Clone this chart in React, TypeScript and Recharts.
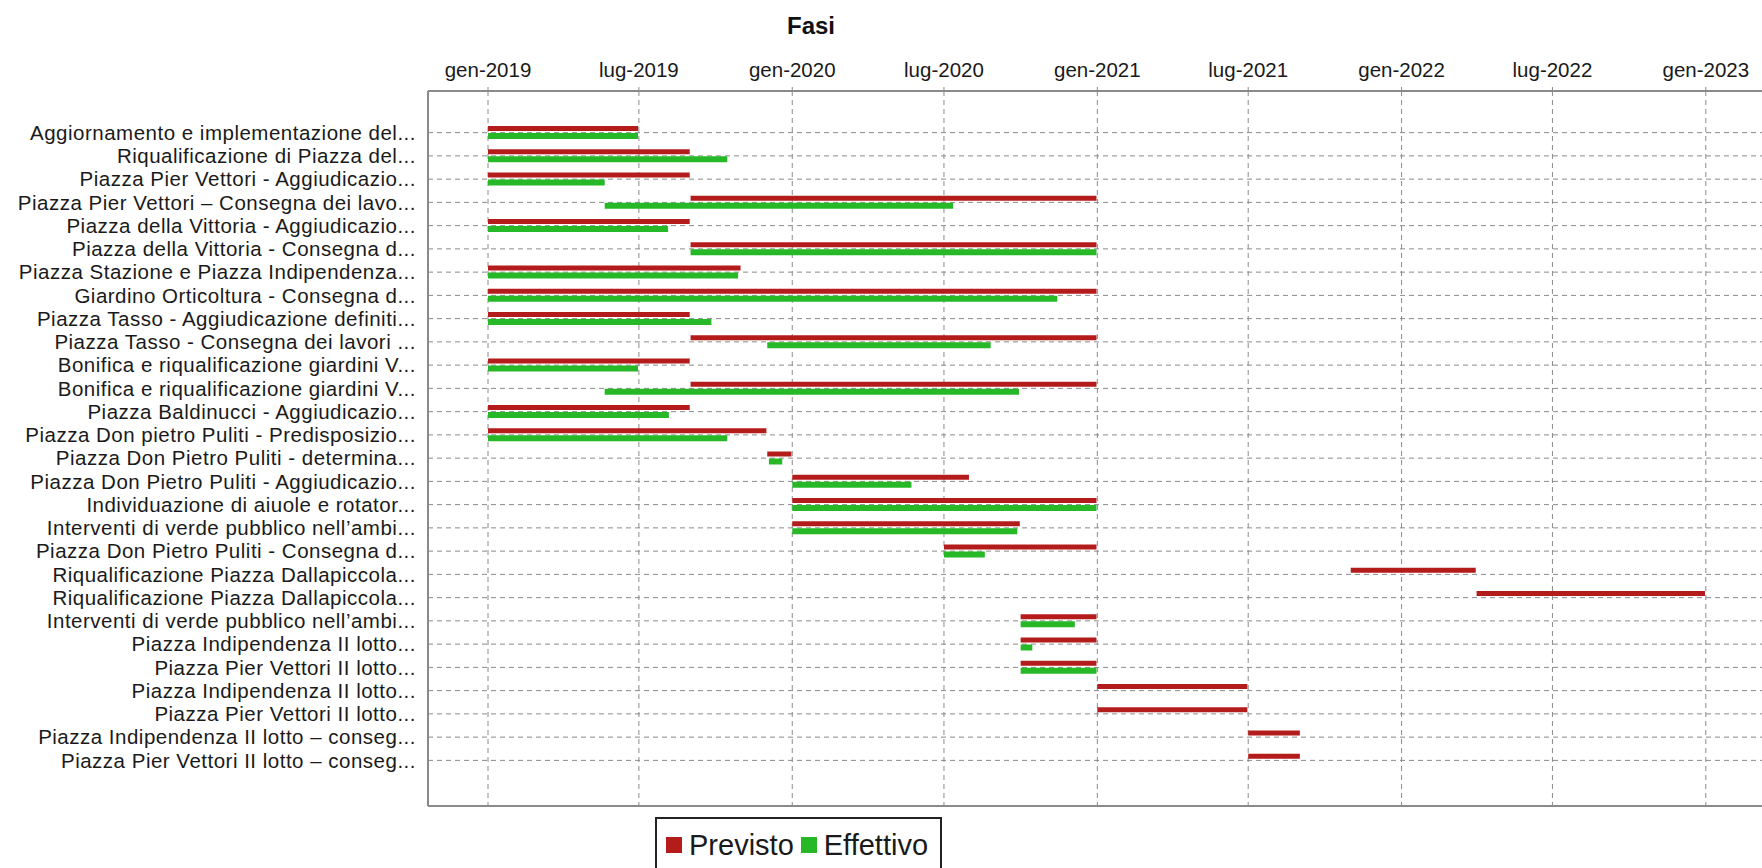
import React from 'react';
import { BarChart, Bar, XAxis, YAxis, CartesianGrid, Legend } from 'recharts';

// fasi (etichette troncate come nel grafico originale)
const fasi = [
  'Aggiornamento e implementazione del...',
  'Riqualificazione di Piazza del...',
  'Piazza Pier Vettori - Aggiudicazio...',
  'Piazza Pier Vettori – Consegna dei lavo...',
  'Piazza della Vittoria - Aggiudicazio...',
  'Piazza della Vittoria - Consegna d...',
  'Piazza Stazione e Piazza Indipendenza...',
  'Giardino Orticoltura - Consegna d...',
  'Piazza Tasso - Aggiudicazione definiti...',
  'Piazza Tasso - Consegna dei lavori ...',
  'Bonifica e riqualificazione giardini V...',
  'Bonifica e riqualificazione giardini V...',
  'Piazza Baldinucci - Aggiudicazio...',
  'Piazza Don pietro Puliti - Predisposizio...',
  'Piazza Don Pietro Puliti - determina...',
  'Piazza Don Pietro Puliti - Aggiudicazio...',
  'Individuazione di aiuole e rotator...',
  'Interventi di verde pubblico nell’ambi...',
  'Piazza Don Pietro Puliti - Consegna d...',
  'Riqualificazione Piazza Dallapiccola...',
  'Riqualificazione Piazza Dallapiccola...',
  'Interventi di verde pubblico nell’ambi...',
  'Piazza Indipendenza II lotto...',
  'Piazza Pier Vettori II lotto...',
  'Piazza Indipendenza II lotto...',
  'Piazza Pier Vettori II lotto...',
  'Piazza Indipendenza II lotto – conseg...',
  'Piazza Pier Vettori II lotto – conseg...',
];

const previstoInizio = [
  '2019-01-01', '2019-01-01', '2019-01-01', '2019-09-01', '2019-01-01', '2019-09-01', '2019-01-01',
  '2019-01-01', '2019-01-01', '2019-09-01', '2019-01-01', '2019-09-01', '2019-01-01', '2019-01-01',
  '2019-12-02', '2020-01-01', '2020-01-01', '2020-01-01', '2020-07-01', '2021-11-01', '2022-04-01',
  '2020-10-01', '2020-10-01', '2020-10-01', '2021-01-01', '2021-01-01', '2021-07-01', '2021-07-01',
];
const previstoFine = [
  '2019-06-30', '2019-08-31', '2019-08-31', '2020-12-31', '2019-08-31', '2020-12-31', '2019-10-31',
  '2020-12-31', '2019-08-31', '2020-12-31', '2019-08-31', '2020-12-31', '2019-08-31', '2019-12-01',
  '2019-12-31', '2020-07-31', '2020-12-31', '2020-09-30', '2020-12-31', '2022-03-31', '2022-12-31',
  '2020-12-31', '2020-12-31', '2020-12-31', '2021-06-30', '2021-06-30', '2021-09-01', '2021-09-01',
];
const effettivoInizio = [
  '2019-01-01', '2019-01-01', '2019-01-01', '2019-05-21', '2019-01-01', '2019-09-01', '2019-01-01',
  '2019-01-01', '2019-01-01', '2019-12-02', '2019-01-01', '2019-05-21', '2019-01-01', '2019-01-01',
  '2019-12-04', '2020-01-01', '2020-01-01', '2020-01-01', '2020-07-01', null, null,
  '2020-10-01', '2020-10-01', '2020-10-01', null, null, null, null,
];
const effettivoFine = [
  '2019-06-30', '2019-10-15', '2019-05-21', '2020-07-12', '2019-08-05', '2020-12-31', '2019-10-28',
  '2020-11-14', '2019-09-26', '2020-08-26', '2019-06-30', '2020-09-29', '2019-08-06', '2019-10-15',
  '2019-12-20', '2020-05-23', '2020-12-31', '2020-09-27', '2020-08-19', null, null,
  '2020-12-05', '2020-10-15', '2020-12-31', null, null, null, null,
];

const tickDates = [
  '2019-01-01', '2019-07-01', '2020-01-01', '2020-07-01', '2021-01-01',
  '2021-07-01', '2022-01-01', '2022-07-01', '2023-01-01',
];
const tickLabels = [
  'gen-2019', 'lug-2019', 'gen-2020', 'lug-2020', 'gen-2021',
  'lug-2021', 'gen-2022', 'lug-2022', 'gen-2023',
];
const dominio = ['2018-10-21', '2023-04-24'];
const serie = ['Previsto', 'Effettivo'];

const ts = (s: string) => Date.parse(s + 'T00:00:00Z');

const data = fasi.map((_, i) => ({
  id: i,
  previsto: [ts(previstoInizio[i]), ts(previstoFine[i])],
  effettivo:
    effettivoInizio[i] && effettivoFine[i]
      ? [ts(effettivoInizio[i] as string), ts(effettivoFine[i] as string)]
      : null,
}));

const ticks = tickDates.map(ts);

const ROSSO = '#b41c1c';
const VERDE = '#27b827';
const GRIGIO = '#8a8a8a';

const LegendBox = (props: any) => {
  const items = [...(props.payload || [])].sort(
    (a: any, b: any) => serie.indexOf(a.value) - serie.indexOf(b.value)
  );
  return (
    <div
      style={{
        border: '2px solid #222',
        background: '#fff',
        height: 56,
        display: 'flex',
        alignItems: 'center',
        padding: '0 0 0 9px',
        boxSizing: 'border-box',
        fontFamily: '"Liberation Sans", Arial, sans-serif',
        fontSize: 29,
        color: '#1a1a1a',
      }}
    >
      {items.map((it: any, i: number) => (
        <div key={i} style={{ display: 'flex', alignItems: 'center', marginRight: 7 }}>
          <span style={{ width: 16, height: 16, background: it.color, display: 'inline-block', marginRight: 7 }} />
          <span>{it.value}</span>
        </div>
      ))}
    </div>
  );
};

export default function App() {
  return (
    <div
      style={{
        position: 'absolute',
        left: 0,
        top: 0,
        width: 1762,
        height: 868,
        overflow: 'hidden',
        background: '#fff',
      }}
    >
      <BarChart
        width={1800}
        height={868}
        data={data}
        layout="vertical"
        margin={{ top: 0, right: 0, bottom: 4, left: 0 }}
        barGap={2}
      >
        <text
          x={811}
          y={34}
          textAnchor="middle"
          fontFamily='"Liberation Sans", Arial, sans-serif'
          fontWeight="bold"
          fontSize={24}
          fill="#111"
        >
          Fasi
        </text>
        <CartesianGrid stroke={GRIGIO} strokeDasharray="5 4" />
        <XAxis
          type="number"
          orientation="top"
          height={91}
          domain={dominio.map(ts)}
          allowDataOverflow
          ticks={ticks}
          interval={0}
          tickFormatter={(v: number) => tickLabels[ticks.indexOf(v)] ?? ''}
          tick={{ fontSize: 20.5, fill: '#1a1a1a', fontFamily: '"Liberation Sans", Arial, sans-serif' }}
          tickSize={4}
          tickMargin={10}
          tickLine={{ stroke: GRIGIO }}
          axisLine={{ stroke: GRIGIO, strokeWidth: 2 }}
        />
        <XAxis
          xAxisId="sotto"
          type="number"
          orientation="bottom"
          height={2}
          domain={dominio.map(ts)}
          allowDataOverflow
          tick={false}
          tickLine={false}
          axisLine={{ stroke: GRIGIO, strokeWidth: 2 }}
        />
        <YAxis
          type="category"
          dataKey="id"
          width={428}
          interval={0}
          padding={{ top: 30, bottom: 34 }}
          tickFormatter={(v: number) => fasi[v]}
          tick={{
            fontSize: 20.5,
            fill: '#1a1a1a',
            fontFamily: '"Liberation Sans", Arial, sans-serif',
            letterSpacing: 0.5,
          }}
          tickLine={false}
          tickSize={0}
          tickMargin={12}
          axisLine={{ stroke: GRIGIO, strokeWidth: 2 }}
        />
        <Legend
          layout="vertical"
          align="center"
          verticalAlign="bottom"
          content={<LegendBox />}
          wrapperStyle={{ left: 655, top: 817, bottom: 'auto', width: 287 }}
        />
        <Bar dataKey="previsto" name="Previsto" fill={ROSSO} barSize={5} isAnimationActive={false} />
        <Bar dataKey="effettivo" name="Effettivo" fill={VERDE} barSize={6} isAnimationActive={false} />
      </BarChart>
    </div>
  );
}
